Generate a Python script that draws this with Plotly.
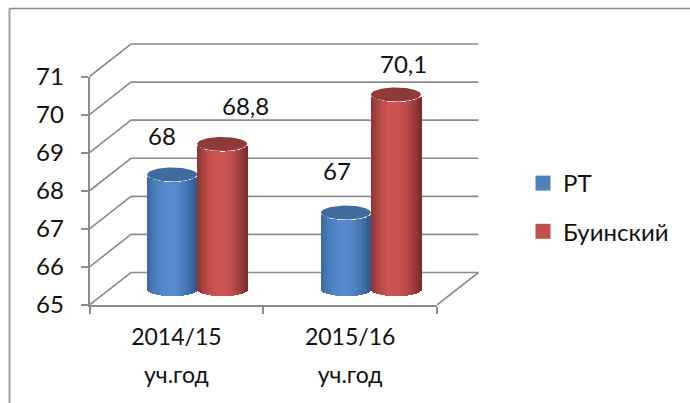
import numpy as np
import plotly.graph_objects as go

categories = [["2014/15", "уч.год"], ["2015/16", "уч.год"]]
series_names = ["РТ", "Буинский"]
rt_values = [68, 67]
buinsk_values = [68.8, 70.1]
rt_labels = ["68", "67"]
buinsk_labels = ["68,8", "70,1"]
value_ticks = [65, 66, 67, 68, 69, 70, 71]

W, H = 690, 403
L, R, T, B = 89.5, 437.0, 76.5, 305.0
PX_X = (R - L) / 2.0
PX_Y = (B - T) / 6.0
DEPTH_X = 41.5 / PX_X
DEPTH_Y = 32.5 / PX_Y
BAR_W = 50.0 / PX_X
ELL_H = 7.0 / PX_Y
N = 40
XR = [-0.5, 1.5]
YR = [65, 71]
WALL_R, WALL_T = 490.0, 36.0
AX = "#8c8c8c"
FONT = "Lato, 'Noto Sans', sans-serif"
PALETTE = {
    "РТ": ((56, 104, 156), (86, 138, 206), (44, 86, 132), "#3f6c9f", "#4f81bd"),
    "Буинский": ((136, 52, 50), (206, 84, 82), (118, 42, 42), "#8e3a38", "#c0504d"),
}


def shade(u, c):
    left, mid, right = c[0], c[1], c[2]
    peak = -0.1
    if u < peak:
        t = ((u - peak) / (-1 - peak)) ** 2
        a = left
    else:
        t = ((u - peak) / (1 - peak)) ** 2
        a = right
    return "rgb(%d,%d,%d)" % tuple(round(mid[i] + (a[i] - mid[i]) * t) for i in range(3))


fig = go.Figure()

# Wall and floor lines, derived from the value ticks (on the larger back subplot)
wx, wy = [], []
for v in value_ticks:
    wx += [XR[0], XR[0] + DEPTH_X, XR[1] + DEPTH_X, None]
    wy += [v, v + DEPTH_Y, v + DEPTH_Y, None]
wx += [XR[1], XR[1] + DEPTH_X, None]
wy += [YR[0], YR[0] + DEPTH_Y, None]
fig.add_trace(go.Scatter(x=wx, y=wy, mode="lines", line=dict(color=AX, width=1.6),
                         showlegend=False, hoverinfo="skip", xaxis="x", yaxis="y"))

for side, name, vals in ((-1, series_names[0], rt_values), (1, series_names[1], buinsk_values)):
    colors = PALETTE[name]
    bx, base, height, cols = [], [], [], []
    for i, v in enumerate(vals):
        cx = i + side * BAR_W / 2 + DEPTH_X / 2
        cy = DEPTH_Y / 2
        for u in np.linspace(-1, 1, N, endpoint=False) + 1.0 / N:
            s = np.sqrt(1 - u * u)
            bx.append(cx + u * BAR_W / 2)
            base.append(YR[0] + cy - ELL_H * s)
            height.append(v - YR[0])
            cols.append(shade(u, colors))
    fig.add_trace(go.Bar(x=bx, y=height, base=base, width=BAR_W / N * 1.15,
                         marker=dict(color=cols, line=dict(width=0)),
                         xaxis="x2", yaxis="y2", showlegend=False, hoverinfo="skip"))
    t = np.linspace(0, 2 * np.pi, 81)
    ex, ey = [], []
    for i, v in enumerate(vals):
        cx = i + side * BAR_W / 2 + DEPTH_X / 2
        ex += list(cx + np.cos(t) * BAR_W / 2) + [None]
        ey += list(v + DEPTH_Y / 2 + np.sin(t) * ELL_H) + [None]
    fig.add_trace(go.Scatter(x=ex, y=ey, mode="lines", fill="toself", fillcolor=colors[3],
                             line=dict(width=0, color=colors[3]), xaxis="x2", yaxis="y2",
                             showlegend=False, hoverinfo="skip"))
    fig.add_trace(go.Scatter(x=[None], y=[None], mode="markers", name=name, legendgroup=name,
                             marker=dict(symbol="square", size=15, color=colors[4]), hoverinfo="skip",
                             xaxis="x2", yaxis="y2"))

# Data labels, hand-placed as in the reference: (series, category) -> pixel shift
shifts = {(0, 0): (-10, 39), (1, 0): (23, 39), (0, 1): (-9, 42), (1, 1): (8, 31)}
for s_i, (side, vals, labs) in enumerate(((-1, rt_values, rt_labels), (1, buinsk_values, buinsk_labels))):
    for i, (v, lab) in enumerate(zip(vals, labs)):
        sx, sy = shifts[(s_i, i)]
        fig.add_annotation(x=i + side * BAR_W / 2 + DEPTH_X / 2, y=v + DEPTH_Y / 2, text=lab,
                           xref="x2", yref="y2", showarrow=False, xshift=sx, yshift=sy,
                           font=dict(size=24, color="#111111", family=FONT))

tick_text = ["<br>".join("<span style='font-size:23px'>%s</span>" % p for p in c) for c in categories]

fig.update_layout(
    width=W, height=H, margin=dict(l=0, r=0, t=0, b=0, autoexpand=False), autosize=False,
    paper_bgcolor="white", plot_bgcolor="rgba(0,0,0,0)", barmode="overlay", bargap=0,
    font=dict(family=FONT, color="#111111"),
    # back subplot: same scale as the front one, just extended so the walls fit
    xaxis=dict(domain=[L / W, WALL_R / W], range=[XR[0], XR[1] + (WALL_R - R) / PX_X], visible=False),
    yaxis=dict(domain=[1 - B / H, 1 - WALL_T / H], range=[YR[0], YR[1] + (T - WALL_T) / PX_Y], visible=False),
    xaxis2=dict(domain=[L / W, R / W], range=XR, anchor="y2", tickmode="array", tickvals=[0, 1],
                ticktext=tick_text, ticklen=0, showgrid=False, zeroline=False, showline=True,
                linecolor=AX, linewidth=1.6, tickfont=dict(color="#111111", size=29.3, family=FONT),
                ticklabelstandoff=3,
                minor=dict(tickmode="array", tickvals=[-0.5, 0.5, 1.5], ticks="outside", ticklen=7,
                           tickcolor=AX, tickwidth=1.5, showgrid=False)),
    yaxis2=dict(domain=[1 - B / H, 1 - T / H], range=YR, anchor="x2", tickmode="array", tickvals=value_ticks,
                ticks="outside", ticklen=7, tickcolor=AX, tickwidth=1.5, showgrid=False, zeroline=False,
                showline=True, linecolor=AX, linewidth=1.6, ticklabelstandoff=12,
                tickfont=dict(color="#111111", size=24, family=FONT)),
    legend=dict(x=523 / W, y=1 - 161 / H, xanchor="left", yanchor="top", traceorder="grouped",
                tracegroupgap=14, font=dict(size=24, color="#111111", family=FONT),
                bgcolor="rgba(0,0,0,0)"),
    shapes=[
        dict(type="line", xref="paper", yref="paper", x0=9.5 / W, x1=9.5 / W, y0=0, y1=1 - 8.5 / H,
             line=dict(color="#a0a0a0", width=2)),
        dict(type="line", xref="paper", yref="paper", x0=9.5 / W, x1=1, y0=1 - 8.5 / H, y1=1 - 8.5 / H,
             line=dict(color="#8c8c8c", width=1.5)),
    ],
)
fig.write_html("out.html", post_script="document.body.style.margin='0';",
               config=dict(displayModeBar=False))
